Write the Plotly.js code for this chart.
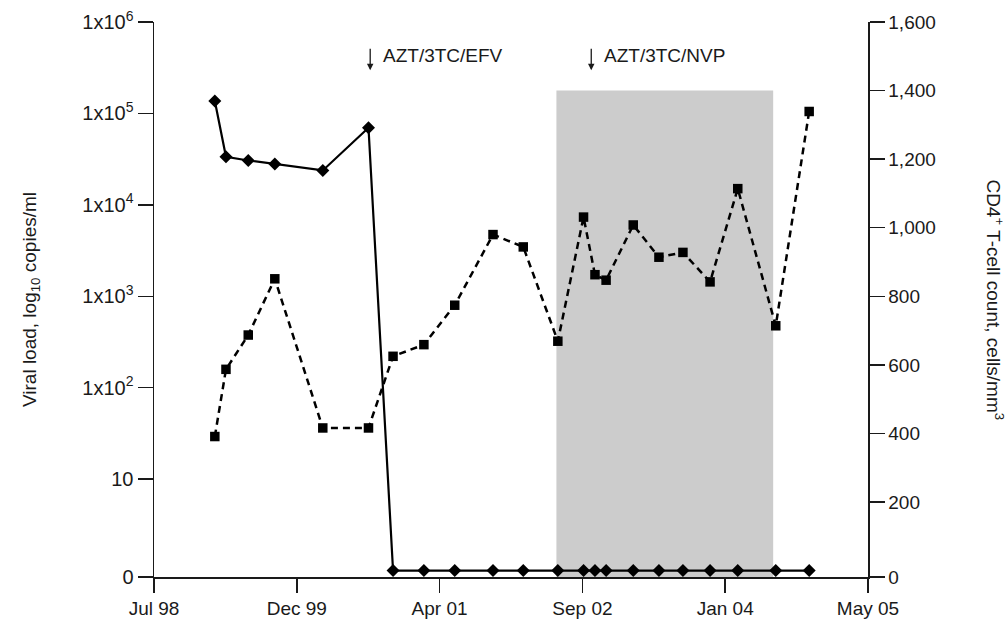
<!DOCTYPE html>
<html>
<head>
<meta charset="utf-8">
<script src="https://cdn.plot.ly/plotly-3.0.1.min.js"></script>
<style>html,body{margin:0;padding:0;background:#fff;}#chart{width:1008px;height:625px;}</style>
</head>
<body>
<div id="chart"></div>
<script>
// Sample dates (shared by both series)
const sampleDates = ['1999-02-23','1999-04-03','1999-06-20','1999-09-21','2000-03-07','2000-08-14',
  '2000-11-08','2001-02-24','2001-06-12','2001-10-24','2002-02-07','2002-06-08','2002-09-06',
  '2002-10-16','2002-11-24','2003-02-27','2003-05-28','2003-08-20','2003-11-23','2004-02-28',
  '2004-07-10','2004-11-04'];
// Viral load, copies/ml (1 = undetectable, plotted on the "0" baseline)
const viralLoad = [137000, 33600, 30600, 27900, 23800, 69800,
  1, 1, 1, 1, 1, 1, 1, 1, 1, 1, 1, 1, 1, 1, 1, 1];
// CD4+ T-cell count, cells/mm3
const cd4Count = [391, 587, 687, 851, 416, 416, 625, 659, 774, 980, 944, 669, 1031,
  863, 847, 1008, 914, 928, 842, 1114, 714, 1339];

// X axis ticks
const xTickDates = ['1998-07-25','1999-12-07','2001-04-20','2002-09-02','2004-01-15','2005-05-29'];
const xTickLabels = ['Jul 98','Dec 99','Apr 01','Sep 02','Jan 04','May 05'];
// Left axis ticks
const vlTickValues = [0.8515, 10, 100, 1000, 10000, 100000, 1000000];
const vlTickLabels = ['0','10','1x10<sup>2</sup>','1x10<sup>3</sup>','1x10<sup>4</sup>','1x10<sup>5</sup>','1x10<sup>6</sup>'];
// Right axis ticks
const cdTickValues = [-18.6, 200, 400, 600, 800, 1000, 1200, 1400, 1600];
const cdTickLabels = ['0','200','400','600','800','1,000','1,200','1,400','1,600'];
// Treatment annotations and shaded period
const regimenDates = ['2000-08-20','2002-10-03'];
const regimenLabels = ['AZT/3TC/EFV','AZT/3TC/NVP'];
const shadedPeriod = ['2002-06-03','2004-07-01'];
const shadedTop = 1400;

const FONT = 'Liberation Sans, Arial, Helvetica, sans-serif';
const INK = '#1a1a1a';

const traces = [
  {
    x: sampleDates, y: viralLoad, yaxis: 'y', type: 'scatter', mode: 'lines+markers',
    line: {color: '#000', width: 2.2},
    marker: {symbol: 'diamond', size: 10, color: '#000'},
    name: 'Viral load', cliponaxis: false
  },
  {
    x: sampleDates, y: cd4Count, yaxis: 'y2', type: 'scatter', mode: 'lines+markers',
    line: {color: '#000', width: 2.5, dash: '7px,5px'},
    marker: {symbol: 'square', size: 9.5, color: '#000'},
    name: 'CD4+ T-cell count', cliponaxis: false
  }
];

const annotations = [];
regimenDates.forEach((d, i) => {
  annotations.push({
    x: d, xref: 'x', y: 0.913, yref: 'paper', text: '', showarrow: true,
    ax: 0, ay: -23, arrowhead: 2, arrowsize: 1, arrowwidth: 1.3, arrowcolor: INK
  });
  annotations.push({
    x: d, xref: 'x', y: 0.9405, yref: 'paper', text: regimenLabels[i], showarrow: false,
    xanchor: 'left', yanchor: 'middle', xshift: 11,
    font: {family: FONT, size: 19, color: INK}
  });
});
annotations.push({
  x: 1.178, xref: 'paper', y: 0.5, yref: 'paper', text: 'CD4<sup>+</sup> T-cell count, cells/mm<sup>3</sup>',
  showarrow: false, textangle: 90, xanchor: 'center', yanchor: 'middle',
  font: {family: FONT, size: 19, color: INK}
});

const layout = {
  width: 1008, height: 625,
  margin: {l: 154, r: 140, t: 22, b: 48},
  paper_bgcolor: '#fff', plot_bgcolor: '#fff',
  showlegend: false,
  font: {family: FONT, size: 19, color: INK},
  xaxis: {
    type: 'date', range: ['1998-07-25', '2005-05-29'],
    tickmode: 'array', tickvals: xTickDates, ticktext: xTickLabels,
    ticks: 'outside', ticklen: 14, tickwidth: 1.5, tickcolor: INK,
    showline: true, linecolor: INK, linewidth: 1.5,
    showgrid: false, zeroline: false,
    tickfont: {family: FONT, size: 19, color: INK}
  },
  yaxis: {
    type: 'log', range: [-0.07, 6],
    tickmode: 'array', tickvals: vlTickValues, ticktext: vlTickLabels,
    ticks: 'outside', ticklen: 15, tickwidth: 1.5, tickcolor: INK,
    showline: true, linecolor: INK, linewidth: 1.5,
    showgrid: false, zeroline: false,
    tickfont: {family: FONT, size: 20, color: INK},
    title: {text: 'Viral load, log<sub>10</sub> copies/ml', font: {family: FONT, size: 19, color: INK}, standoff: 40}
  },
  yaxis2: {
    overlaying: 'y', side: 'right', range: [-18.7, 1600],
    tickmode: 'array', tickvals: cdTickValues, ticktext: cdTickLabels,
    ticks: 'outside', ticklen: 15, tickwidth: 1.5, tickcolor: INK,
    showline: true, linecolor: INK, linewidth: 1.5,
    showgrid: false, zeroline: false,
    tickfont: {family: FONT, size: 19, color: INK}
  },
  shapes: [{
    type: 'rect', layer: 'below', xref: 'x', yref: 'y2',
    x0: shadedPeriod[0], x1: shadedPeriod[1], y0: -18.7, y1: shadedTop,
    fillcolor: '#cccccc', line: {width: 0}
  }],
  annotations: annotations
};

Plotly.newPlot('chart', traces, layout, {staticPlot: true, displayModeBar: false});
</script>
</body>
</html>
